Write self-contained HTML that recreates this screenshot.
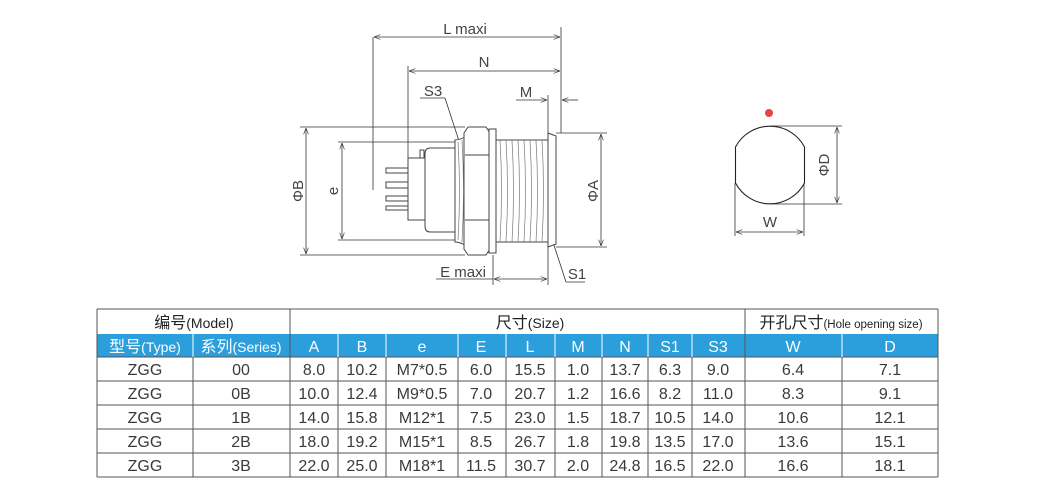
<!DOCTYPE html>
<html><head><meta charset="utf-8"><style>
body{margin:0;background:#fff;width:1042px;height:500px;overflow:hidden;position:relative;font-family:"Liberation Sans","Noto Sans CJK SC",sans-serif}
svg{position:absolute;left:0;top:0}
</style></head><body>
<svg width="1042" height="500" viewBox="0 0 1042 500">
<defs><marker id="a" markerWidth="8" markerHeight="6" refX="8" refY="3" orient="auto-start-reverse"><path d="M0,0 L8,3 L0,6" fill="none" stroke="#333" stroke-width="0.8"/></marker></defs>
<g stroke="#333" stroke-width="0.8" fill="none">
<line x1="373" y1="37" x2="373" y2="190"/><line x1="561" y1="27" x2="561" y2="133"/>
<line x1="374" y1="37" x2="560" y2="37" marker-start="url(#a)" marker-end="url(#a)"/>
<line x1="408" y1="66" x2="408" y2="160"/>
<line x1="409" y1="71" x2="560" y2="71" marker-start="url(#a)" marker-end="url(#a)"/>
<line x1="548" y1="95" x2="548" y2="135"/>
<line x1="516" y1="100" x2="547" y2="100" marker-end="url(#a)"/>
<line x1="578" y1="100" x2="562" y2="100" marker-end="url(#a)"/>
<line x1="300" y1="127" x2="465" y2="127"/><line x1="300" y1="255" x2="465" y2="255"/>
<line x1="306" y1="128" x2="306" y2="254" marker-start="url(#a)" marker-end="url(#a)"/>
<line x1="338" y1="142" x2="456" y2="142"/><line x1="338" y1="240" x2="456" y2="240"/>
<line x1="342" y1="143" x2="342" y2="239" marker-start="url(#a)" marker-end="url(#a)"/>
<line x1="556" y1="133" x2="607" y2="133"/><line x1="556" y1="247" x2="607" y2="247"/>
<line x1="601" y1="134" x2="601" y2="246" marker-start="url(#a)" marker-end="url(#a)"/>
<line x1="493" y1="255" x2="493" y2="285"/><line x1="548" y1="247" x2="548" y2="285"/>
<line x1="436" y1="279" x2="493" y2="279"/>
<line x1="494" y1="279" x2="547" y2="279" marker-start="url(#a)" marker-end="url(#a)"/>
<line x1="420" y1="98" x2="445" y2="98"/><line x1="445" y1="98" x2="475" y2="190"/>
<line x1="536" y1="190" x2="566" y2="282"/><line x1="566" y1="282" x2="585" y2="282"/>
</g>
<g stroke="#444" stroke-width="1" fill="#fff">
<rect x="386" y="168" width="28" height="5"/><rect x="386" y="182" width="30" height="6"/><rect x="386" y="196" width="28" height="5"/><rect x="386" y="206" width="28" height="4"/>
<rect x="408" y="158" width="20" height="62"/><rect x="420" y="150" width="4" height="8"/>
<path d="M430,148 H457 V232 H430 Q425,232 425,226 V154 Q425,148 430,148Z"/>
<path d="M455,140 Q460,140 467,136 V246 Q460,242 455,242Z"/>
<path d="M468,127 H486 L490,133 V249 L486,255 H468 L464,249 V133Z"/>
<line x1="465" y1="155" x2="490" y2="155"/><line x1="465" y1="220" x2="490" y2="220"/>
<rect x="489" y="129" width="7" height="124"/>
<rect x="496" y="140" width="52" height="102"/>
<path d="M548,133 L556,136 V244 L548,247Z"/>
</g>
<g stroke="#777" stroke-width="0.7" fill="none">
<path d="M500,140 Q503,191 500,242 M506,140 Q509,191 506,242 M512,140 Q515,191 512,242 M518,140 Q521,191 518,242 M524,140 Q527,191 524,242 M530,140 Q533,191 530,242 M536,140 Q539,191 536,242 M542,140 Q545,191 542,242"/>
<path d="M458,142 Q461,191 458,240 M462,140 Q465,191 462,242"/>
</g>
<circle cx="769" cy="113" r="4" fill="#e8434a"/>
<g stroke="#222" stroke-width="1.1" fill="none">
<path d="M735.5,147 A39,39 0 0 1 804.5,147 V183 A39,39 0 0 1 735.5,183 Z"/>
</g>
<g stroke="#333" stroke-width="0.8" fill="none">
<line x1="770" y1="126" x2="842" y2="126"/><line x1="770" y1="204" x2="842" y2="204"/>
<line x1="837" y1="127" x2="837" y2="203" marker-start="url(#a)" marker-end="url(#a)"/>
<line x1="735" y1="183" x2="735" y2="236"/><line x1="804" y1="183" x2="804" y2="236"/>
<line x1="736" y1="232" x2="803" y2="232" marker-start="url(#a)" marker-end="url(#a)"/>
</g>
<g fill="#444" font-family="Liberation Sans,sans-serif" font-size="15">
<text x="465" y="34" text-anchor="middle">L maxi</text>
<text x="484" y="67" text-anchor="middle">N</text>
<text x="433" y="96" text-anchor="middle">S3</text>
<text x="526" y="97" text-anchor="middle">M</text>
<text x="463" y="277" text-anchor="middle">E maxi</text>
<text x="577" y="279" text-anchor="middle">S1</text>
<text x="770" y="227" text-anchor="middle">W</text>
<text transform="translate(303,191) rotate(-90)" text-anchor="middle">ΦB</text>
<text transform="translate(338,191) rotate(-90)" text-anchor="middle">e</text>
<text transform="translate(598,191) rotate(-90)" text-anchor="middle">ΦA</text>
<text transform="translate(829,165) rotate(-90)" text-anchor="middle">ΦD</text>
</g>
<rect x="97" y="334" width="841" height="23" fill="#2a9fdb"/>
<g stroke="#555" stroke-width="1">
<line x1="97" y1="309" x2="938" y2="309"/><line x1="97" y1="477" x2="938" y2="477"/>
<line x1="97" y1="309" x2="97" y2="477"/><line x1="938" y1="309" x2="938" y2="477"/>
<line x1="97" y1="357" x2="938" y2="357"/>
<line x1="97" y1="381" x2="938" y2="381"/><line x1="97" y1="405" x2="938" y2="405"/><line x1="97" y1="429" x2="938" y2="429"/><line x1="97" y1="453" x2="938" y2="453"/>
<line x1="290" y1="309" x2="290" y2="477"/><line x1="745" y1="309" x2="745" y2="477"/>
<g stroke="#fff"><line x1="193" y1="334" x2="193" y2="357"/><line x1="338" y1="334" x2="338" y2="357"/><line x1="386" y1="334" x2="386" y2="357"/><line x1="458" y1="334" x2="458" y2="357"/><line x1="506" y1="334" x2="506" y2="357"/><line x1="555" y1="334" x2="555" y2="357"/><line x1="602" y1="334" x2="602" y2="357"/><line x1="648" y1="334" x2="648" y2="357"/><line x1="692" y1="334" x2="692" y2="357"/><line x1="842" y1="334" x2="842" y2="357"/></g>
<line x1="193" y1="357" x2="193" y2="477"/><line x1="338" y1="357" x2="338" y2="477"/><line x1="386" y1="357" x2="386" y2="477"/><line x1="458" y1="357" x2="458" y2="477"/><line x1="506" y1="357" x2="506" y2="477"/><line x1="555" y1="357" x2="555" y2="477"/><line x1="602" y1="357" x2="602" y2="477"/><line x1="648" y1="357" x2="648" y2="477"/><line x1="692" y1="357" x2="692" y2="477"/><line x1="842" y1="357" x2="842" y2="477"/>
</g>
<g font-family="Liberation Sans,'Noto Sans CJK SC',sans-serif" font-size="16" fill="#222" text-anchor="middle">
<text x="194" y="328">编号<tspan font-size="14">(Model)</tspan></text>
<text x="530" y="328">尺寸<tspan font-size="14">(Size)</tspan></text>
<text x="841" y="328">开孔尺寸<tspan font-size="11.5">(Hole opening size)</tspan></text>
<g fill="#fff"><text x="145" y="352">型号<tspan font-size="14">(Type)</tspan></text><text x="241" y="352">系列<tspan font-size="14">(Series)</tspan></text>
<text x="314" y="352">A</text><text x="362" y="352">B</text><text x="422" y="352">e</text><text x="481" y="352">E</text><text x="530" y="352">L</text><text x="578" y="352">M</text><text x="625" y="352">N</text><text x="670" y="352">S1</text><text x="718" y="352">S3</text><text x="793" y="352">W</text><text x="890" y="352">D</text></g>
</g>
<g font-family="Liberation Sans,sans-serif" font-size="16" fill="#3a3a3a" text-anchor="middle">
<g transform="translate(0,375)"><text x="145">ZGG</text><text x="241">00</text><text x="314">8.0</text><text x="362">10.2</text><text x="422">M7*0.5</text><text x="481">6.0</text><text x="530">15.5</text><text x="578">1.0</text><text x="625">13.7</text><text x="670">6.3</text><text x="718">9.0</text><text x="793">6.4</text><text x="890">7.1</text></g>
<g transform="translate(0,399)"><text x="145">ZGG</text><text x="241">0B</text><text x="314">10.0</text><text x="362">12.4</text><text x="422">M9*0.5</text><text x="481">7.0</text><text x="530">20.7</text><text x="578">1.2</text><text x="625">16.6</text><text x="670">8.2</text><text x="718">11.0</text><text x="793">8.3</text><text x="890">9.1</text></g>
<g transform="translate(0,423)"><text x="145">ZGG</text><text x="241">1B</text><text x="314">14.0</text><text x="362">15.8</text><text x="422">M12*1</text><text x="481">7.5</text><text x="530">23.0</text><text x="578">1.5</text><text x="625">18.7</text><text x="670">10.5</text><text x="718">14.0</text><text x="793">10.6</text><text x="890">12.1</text></g>
<g transform="translate(0,447)"><text x="145">ZGG</text><text x="241">2B</text><text x="314">18.0</text><text x="362">19.2</text><text x="422">M15*1</text><text x="481">8.5</text><text x="530">26.7</text><text x="578">1.8</text><text x="625">19.8</text><text x="670">13.5</text><text x="718">17.0</text><text x="793">13.6</text><text x="890">15.1</text></g>
<g transform="translate(0,471)"><text x="145">ZGG</text><text x="241">3B</text><text x="314">22.0</text><text x="362">25.0</text><text x="422">M18*1</text><text x="481">11.5</text><text x="530">30.7</text><text x="578">2.0</text><text x="625">24.8</text><text x="670">16.5</text><text x="718">22.0</text><text x="793">16.6</text><text x="890">18.1</text></g>
</g>
</svg>
</body></html>
